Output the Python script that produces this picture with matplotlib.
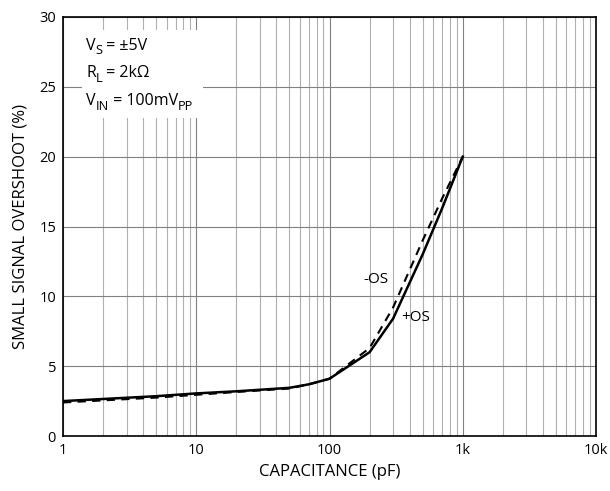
import matplotlib
matplotlib.use("Agg")
import matplotlib.pyplot as plt
from matplotlib.ticker import LogLocator, NullFormatter
import matplotlib.patches as mpatches

plt.rcParams['font.family'] = ['Open Sans', 'DejaVu Sans']

cap_pos = [1, 2, 5, 10, 20, 50, 70, 100, 200, 300, 500, 700, 1000]
os_pos = [2.5, 2.65, 2.85, 3.05, 3.2, 3.45, 3.7, 4.1, 6.0, 8.4, 13.0, 16.3, 20.0]
cap_neg = [1, 2, 5, 10, 20, 50, 70, 100, 200, 300, 500, 700, 1000]
os_neg = [2.4, 2.55, 2.75, 2.95, 3.15, 3.4, 3.7, 4.1, 6.3, 9.2, 14.0, 17.0, 20.0]
xticks = [1, 10, 100, 1000, 10000]
xticklabels = ['1', '10', '100', '1k', '10k']
yticks = [0, 5, 10, 15, 20, 25, 30]

fig = plt.figure(figsize=(6.1, 4.91), dpi=100)
ax = fig.add_axes([63/610, 1-436/491, 533/610, 419/491])
ax.set_xscale('log')
ax.set_xlim(1, 10000)
ax.set_ylim(0, 30)
ax.set_xticks(xticks)
ax.set_xticklabels(xticklabels)
ax.xaxis.set_minor_locator(LogLocator(base=10, subs=range(2, 10)))
ax.xaxis.set_minor_formatter(NullFormatter())
ax.set_yticks(yticks)
ax.grid(True, which='major', color='#808080', lw=0.8)
ax.grid(True, which='minor', axis='x', color='#b0b0b0', lw=0.8)
ax.tick_params(which='both', length=0, labelsize=10.5, pad=5)
for s in ax.spines.values():
    s.set_linewidth(1.2)

ax.plot(cap_pos, os_pos, color='black', lw=1.8, zorder=3)
ax.plot(cap_neg, os_neg, color='black', lw=1.5, ls=(0, (4, 3)), zorder=3)

ax.add_patch(mpatches.Rectangle((0.036, 0.759), 0.227, 0.21, transform=ax.transAxes,
                                facecolor='white', edgecolor='none', zorder=2.5))

fig.canvas.draw()
renderer = fig.canvas.get_renderer()

def rich(x_px, y_px, parts, size=11.5):
    # parts: list of (text, is_sub)
    x = x_px
    for txt, sub in parts:
        fs = size * 0.8 if sub else size
        yy = y_px + 5 if sub else y_px
        t = fig.text(x / 610, 1 - yy / 491, txt, fontsize=fs, va='center', ha='left', zorder=5)
        bb = t.get_window_extent(renderer)
        x += bb.width

rich(86, 46, [('V', False), ('S', True), (' = ±5V', False)])
rich(86, 73, [('R', False), ('L', True), (' = 2kΩ', False)])
rich(86, 101, [('V', False), ('IN', True), (' = 100mV', False), ('PP', True)])

ax.text(223, 11.2, '-OS', fontsize=11, ha='center', va='center', zorder=4)
ax.text(440, 8.5, '+OS', fontsize=11, ha='center', va='center', zorder=4)

ax.set_xlabel('CAPACITANCE (pF)', fontsize=12, labelpad=4)
ax.set_ylabel('SMALL SIGNAL OVERSHOOT (%)', fontsize=12, labelpad=8)

fig.savefig('out.png', dpi=100)
